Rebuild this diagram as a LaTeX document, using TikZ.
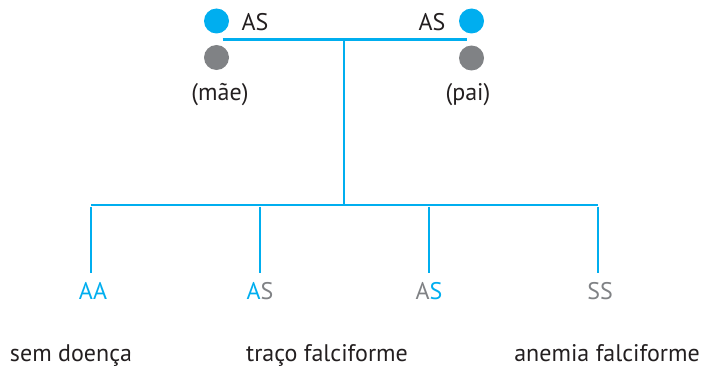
\documentclass[tikz,border=0pt]{standalone}
\usepackage{fontspec}
\setmainfont{PT Sans}
\definecolor{cyanB}{HTML}{00AEEF}
\definecolor{grayB}{HTML}{808285}
\definecolor{inkB}{HTML}{231F20}
\begin{document}
\begin{tikzpicture}[x=1pt,y=-1pt,
  line/.style={cyanB,line width=2.6pt},
  dotc/.style={circle,fill=cyanB,minimum size=25pt,inner sep=0pt},
  dotg/.style={circle,fill=grayB,minimum size=25pt,inner sep=0pt},
  lbl/.style={font=\fontsize{24}{28}\selectfont,text=inkB,inner sep=0pt,anchor=base},
  geno/.style={font=\fontsize{24}{28}\selectfont,inner sep=0pt,anchor=base}]
  \useasboundingbox (0,0) rectangle (719,369);
  % parents
  \node[dotc] (mb) at (216.5,21) {};
  \node[dotg] (mg) at (216.5,57.5) {};
  \node[dotc] (pb) at (471.5,21) {};
  \node[dotg] (pg) at (471.5,58) {};
  \node[lbl] (mas) at (255,31) {AS};
  \node[lbl] (pas) at (432,31) {AS};
  \node[lbl] (mae) at (220,100) {(mãe)};
  \node[lbl] (pai) at (468,100) {(pai)};
  % cross
  \coordinate (cl) at (222.5,39.5);
  \coordinate (cr) at (467,39.5);
  \coordinate (ct) at (344,39.5);
  \coordinate (cb) at (344,205);
  \draw[line] (cl) -- (cr);
  \draw[line] (ct) -- (cb);
  % offspring bar
  \coordinate (b1) at (91,205);
  \coordinate (b2) at (260,205);
  \coordinate (b3) at (429,205);
  \coordinate (b4) at (598,205);
  \draw[line] (b1) -- (b4);
  \foreach \i in {1,...,4} {
    \draw[line] ([yshift=-1.5pt]b\i) -- ++(0,66.5);
  }
  % genotypes
  \node[geno] (g1) at (93,299) {\textcolor{cyanB}{AA}};
  \node[geno] (g2) at (260,299) {\textcolor{cyanB}{A}\textcolor{grayB}{S}};
  \node[geno] (g3) at (429,299) {\textcolor{grayB}{A}\textcolor{cyanB}{S}};
  \node[geno] (g4) at (600,299) {\textcolor{grayB}{SS}};
  % phenotypes
  \node[lbl] (p1) at (71,361.5) {sem doença};
  \node[lbl] (p2) at (327,361.5) {traço falciforme};
  \node[lbl] (p3) at (607,361.5) {anemia falciforme};
\end{tikzpicture}
\end{document}
